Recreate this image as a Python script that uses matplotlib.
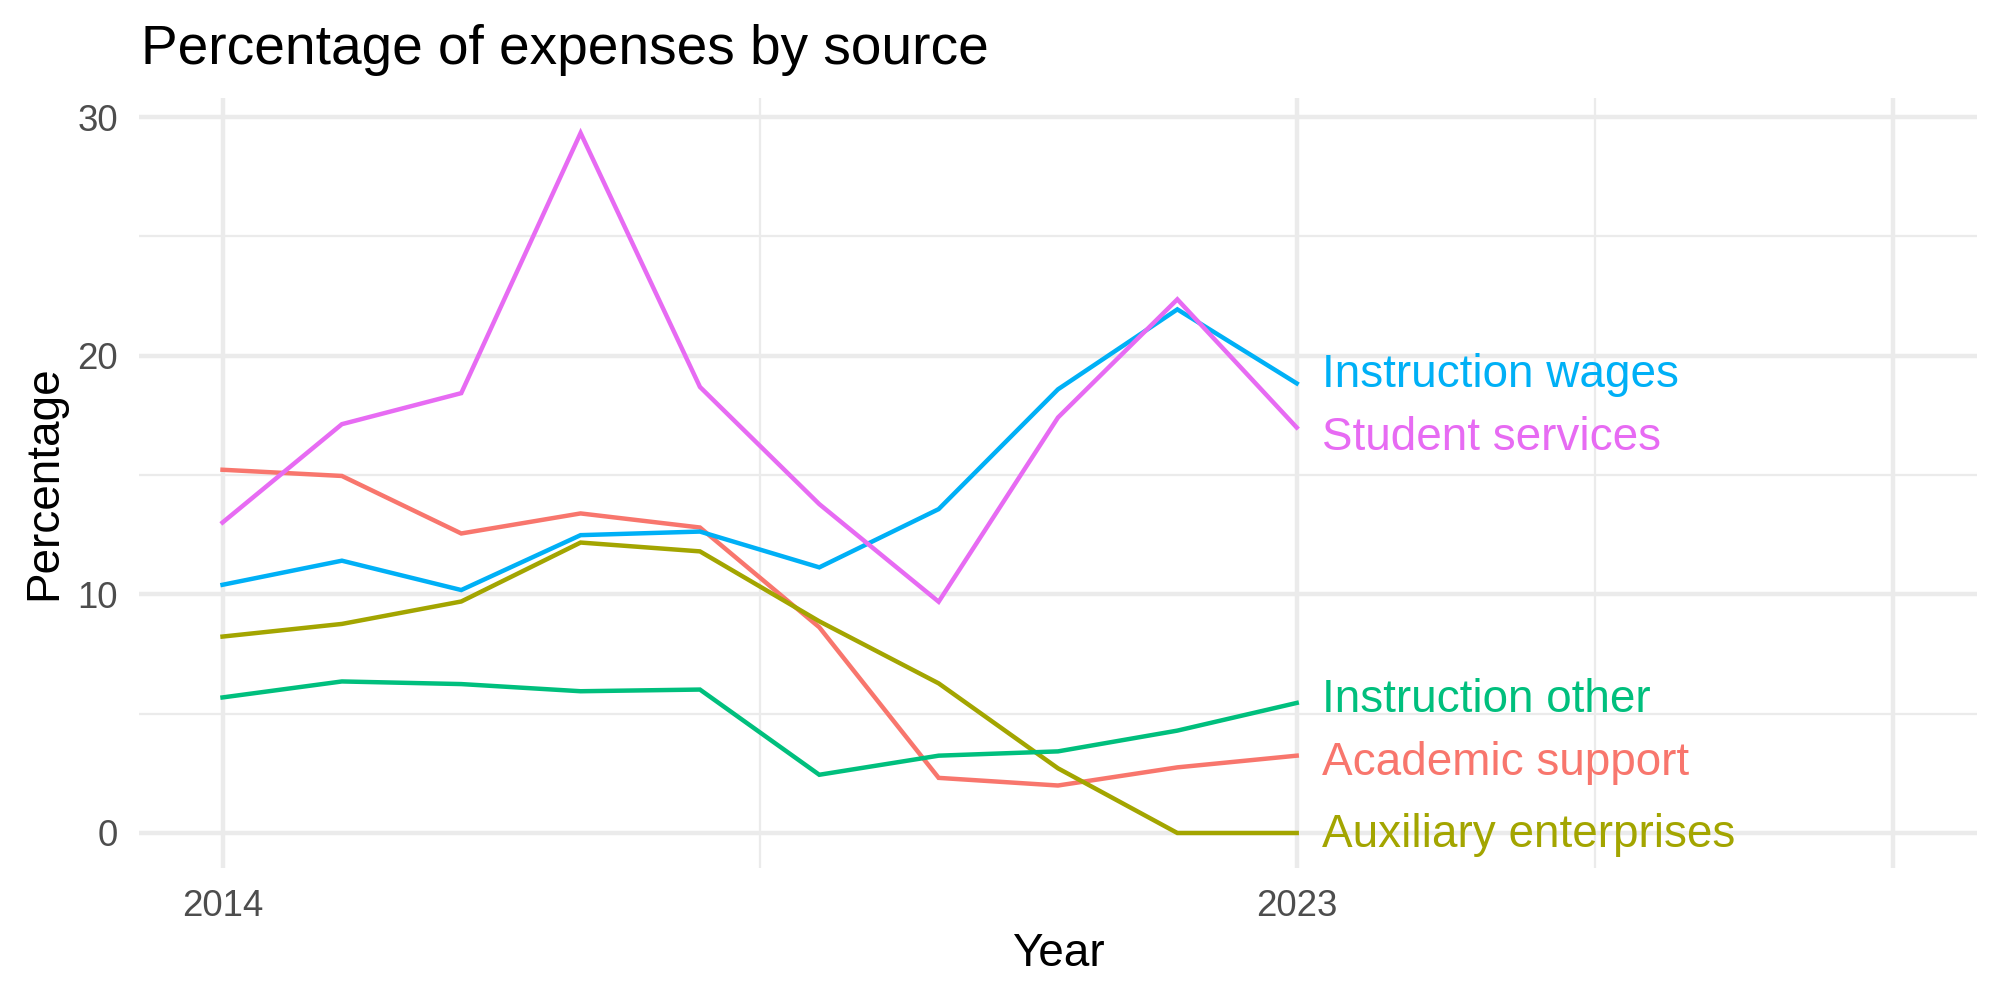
import matplotlib
matplotlib.use("Agg")
import matplotlib.pyplot as plt
from matplotlib.ticker import FixedLocator

# -----------------------------
# Data
# -----------------------------
years = [2014, 2015, 2016, 2017, 2018, 2019, 2020, 2021, 2022, 2023]

academic_support = [15.22, 14.96, 12.55, 13.39, 12.80, 8.62, 2.31, 1.99, 2.75, 3.24]
auxiliary_enterprises = [8.23, 8.76, 9.70, 12.17, 11.80, 8.87, 6.27, 2.71, 0.0, 0.0]
instruction_other = [5.68, 6.35, 6.24, 5.94, 6.01, 2.44, 3.24, 3.42, 4.29, 5.45]
instruction_wages = [10.40, 11.41, 10.18, 12.48, 12.63, 11.13, 13.57, 18.59, 21.94, 18.84]
student_services = [13.01, 17.13, 18.43, 29.33, 18.69, 13.78, 9.69, 17.41, 22.36, 16.99]

series_names = ["Academic support", "Auxiliary enterprises", "Instruction other",
                "Instruction wages", "Student services"]
series_values = [academic_support, auxiliary_enterprises, instruction_other,
                 instruction_wages, student_services]

x_breaks = [2014, 2023, 2028]
x_labels = ["2014", "2023", ""]
y_breaks = [0, 10, 20, 30]

# -----------------------------
# Style
# -----------------------------
colors = ["#F8766D", "#A3A500", "#00BF7D", "#00B0F6", "#E76BF3"]
# small vertical nudges so the end labels don't overlap (like ggrepel)
label_nudge = {"Academic support": -0.29, "Auxiliary enterprises": -0.10,
               "Instruction other": 0.14, "Instruction wages": 0.37,
               "Student services": -0.43}

plt.rcParams["font.family"] = ["Liberation Sans", "DejaVu Sans"]
grid_col = "#EBEBEB"

W, H = 2000, 1000
fig = plt.figure(figsize=(W / 300, H / 300), dpi=300)
left, right, top, bottom = 139, 1977, 98, 868
ax = fig.add_axes([left / W, 1 - bottom / H, (right - left) / W, (bottom - top) / H])

for name, vals, col in zip(series_names, series_values, colors):
    ax.plot(years, vals, color=col, linewidth=1.07, solid_joinstyle="miter", zorder=3)
    ax.text(years[-1] + 0.21, vals[-1] + label_nudge[name], name, color=col,
            fontsize=11, ha="left", va="center", zorder=4)

# limits with ggplot-style 5% expansion
x0, x1 = 2014, 2028
ax.set_xlim(x0 - 0.05 * (x1 - x0), x1 + 0.05 * (x1 - x0))
ymax = max(max(v) for v in series_values)
ax.set_ylim(0 - 0.05 * ymax, ymax + 0.05 * ymax)

ax.xaxis.set_major_locator(FixedLocator(x_breaks))
ax.set_xticklabels(x_labels)
ax.xaxis.set_minor_locator(FixedLocator([2018.5, 2025.5]))
ax.yaxis.set_major_locator(FixedLocator(y_breaks))
ax.yaxis.set_minor_locator(FixedLocator([5, 15, 25]))

ax.grid(True, which="major", color=grid_col, linewidth=1.07, zorder=0)
ax.grid(True, which="minor", color=grid_col, linewidth=0.53, zorder=0)
ax.set_axisbelow(True)
for s in ax.spines.values():
    s.set_visible(False)
ax.tick_params(which="both", length=0, labelsize=8.8, labelcolor="#4D4D4D", pad=5)

fig.text(left / W + 0.001, 1 - 64 / H, "Percentage of expenses by source",
         fontsize=13.2, ha="left", va="baseline", color="black")
fig.text((left + right) / 2 / W, 1 - 966 / H, "Year", fontsize=11,
         ha="center", va="baseline", color="black")
fig.text(0.022, 1 - (top + bottom) / 2 / H, "Percentage", fontsize=11,
         rotation=90, ha="center", va="center", color="black")

fig.savefig("out.png", dpi=300, facecolor="white")
plt.close()
